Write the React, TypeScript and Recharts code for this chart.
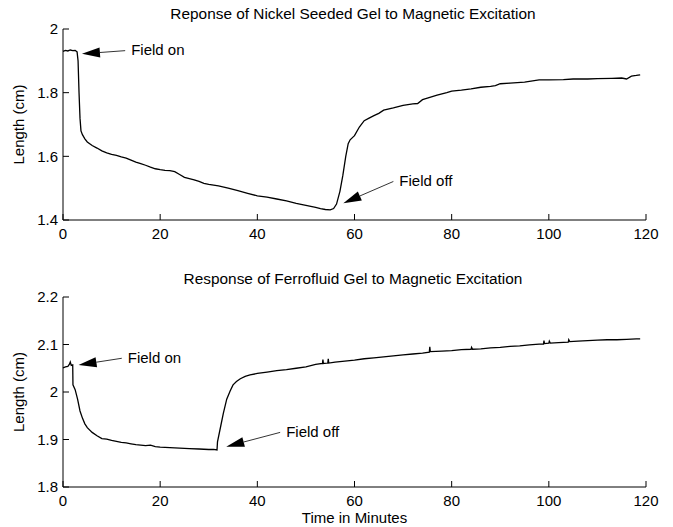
import React from 'react';
import { LineChart, Line, XAxis, YAxis, ReferenceLine } from 'recharts';

// Nickel seeded gel (top panel)
const nickelTime = [
  0, 0.5, 1, 1.5, 2, 2.5, 2.9, 3.1, 3.3, 3.5, 3.7, 4, 4.5, 5, 6, 7, 8, 9, 10, 11, 12, 13, 14, 15, 16,
  17, 18, 19, 20, 21, 22, 23, 24, 25, 26, 27, 28, 29, 30, 32, 34, 36, 38, 40, 42, 44, 46, 48, 50, 52,
  53, 54, 55, 55.7, 56.3, 57, 57.6, 58.2, 58.7, 59.1, 60, 61, 62, 63, 64, 65, 66, 68, 70, 72, 73, 74,
  75, 77, 79, 80, 82, 84, 86, 88, 89, 90, 92, 95, 98, 100, 103, 105, 108, 110, 113, 115, 116, 117,
  118, 118.8,
];
const nickelLength = [
  1.930, 1.933, 1.931, 1.934, 1.932, 1.933, 1.928, 1.9, 1.8, 1.72, 1.68, 1.668, 1.655, 1.645, 1.634,
  1.626, 1.617, 1.611, 1.606, 1.603, 1.598, 1.594, 1.588, 1.582, 1.577, 1.572, 1.566, 1.561, 1.558,
  1.556, 1.555, 1.552, 1.543, 1.534, 1.53, 1.526, 1.521, 1.515, 1.512, 1.507, 1.5, 1.492, 1.484, 1.476,
  1.472, 1.466, 1.46, 1.452, 1.446, 1.44, 1.436, 1.433, 1.432, 1.436, 1.45, 1.49, 1.54, 1.6, 1.64,
  1.652, 1.665, 1.692, 1.712, 1.72, 1.728, 1.735, 1.745, 1.752, 1.76, 1.765, 1.766, 1.778, 1.783,
  1.792, 1.8, 1.805, 1.808, 1.812, 1.817, 1.82, 1.822, 1.828, 1.83, 1.833, 1.84, 1.84, 1.841, 1.843,
  1.843, 1.844, 1.845, 1.846, 1.843, 1.852, 1.854, 1.856,
];

// Ferrofluid gel (bottom panel)
const ferroTime = [
  0, 0.5, 1, 1.3, 1.5, 1.7, 2, 2.05, 2.5, 3, 3.5, 4, 4.5, 5, 6, 7, 8, 9, 10, 11, 12, 13, 14, 15, 16, 17,
  18, 19, 20, 22, 24, 26, 28, 30, 31, 31.7, 31.8, 32.5, 33, 33.7, 34.4, 35, 35.7, 36.5, 37.5, 38.5, 40,
  42, 44, 46, 48, 50, 52, 53.4, 53.5, 53.6, 54.5, 54.6, 54.7, 56, 58, 60, 62, 64, 66, 68, 70, 72, 74,
  75.4, 75.5, 75.6, 78, 80, 82, 84, 84.1, 84.3, 86, 88, 90, 92, 94, 96, 98, 98.9, 99, 99.1, 100, 100.1,
  100.3, 102, 104, 104.1, 104.3, 106, 108, 110, 112, 114, 116, 118, 118.8,
];
const ferroLength = [
  2.051, 2.053, 2.054, 2.058, 2.063, 2.056, 2.057, 2.015, 2.005, 1.985, 1.96, 1.945, 1.933, 1.925,
  1.915, 1.908, 1.902, 1.901, 1.898, 1.896, 1.894, 1.893, 1.891, 1.889, 1.888, 1.887, 1.888, 1.885,
  1.884, 1.883, 1.882, 1.881, 1.88, 1.879, 1.879, 1.878, 1.895, 1.93, 1.955, 1.985, 2.002, 2.015, 2.022,
  2.028, 2.033, 2.036, 2.039, 2.042, 2.045, 2.047, 2.05, 2.053, 2.058, 2.06, 2.068, 2.06, 2.061, 2.07,
  2.061, 2.063, 2.065, 2.067, 2.07, 2.072, 2.074, 2.076, 2.078, 2.08, 2.082, 2.084, 2.095, 2.085,
  2.086, 2.087, 2.089, 2.09, 2.094, 2.09, 2.091, 2.093, 2.094, 2.096, 2.097, 2.099, 2.101, 2.101, 2.108,
  2.102, 2.103, 2.107, 2.103, 2.104, 2.105, 2.11, 2.106, 2.107, 2.108, 2.109, 2.11, 2.11, 2.111, 2.112,
  2.112,
];

const xTicks = [0, 20, 40, 60, 80, 100, 120];
const nickelTicks = [1.4, 1.6, 1.8, 2];
const ferroTicks = [1.8, 1.9, 2, 2.1, 2.2];

// annotation arrows: [tail, tip] in data units
const nickelNotes = [
  { text: 'Field on', tail: { x: 12.8, y: 1.932 }, tip: { x: 3.9, y: 1.922 } },
  { text: 'Field off', tail: { x: 68.0, y: 1.521 }, tip: { x: 57.7, y: 1.453 } },
];
const ferroNotes = [
  { text: 'Field on', tail: { x: 12.1, y: 2.071 }, tip: { x: 3.2, y: 2.057 } },
  { text: 'Field off', tail: { x: 44.7, y: 1.915 }, tip: { x: 33.6, y: 1.885 } },
];

const FONT = '"Liberation Sans", Arial, sans-serif';

const nickelData = nickelTime.map((t, i) => ({ t, v: nickelLength[i] }));
const ferroData = ferroTime.map((t, i) => ({ t, v: ferroLength[i] }));

const arrowShape = (text: string) => (p: any) => {
  const { x1, y1, x2, y2 } = p;
  const ang = Math.atan2(y2 - y1, x2 - x1);
  const L = 18;
  const W = 5;
  const bx = x2 - L * Math.cos(ang);
  const by = y2 - L * Math.sin(ang);
  const nx = -Math.sin(ang) * W;
  const ny = Math.cos(ang) * W;
  return (
    <g>
      <line x1={x1} y1={y1} x2={bx} y2={by} stroke="#000" strokeWidth={0.8} />
      <polygon points={`${x2},${y2} ${bx + nx},${by + ny} ${bx - nx},${by - ny}`} fill="#000" />
      <text x={x1 + 6} y={y1 - 1} dominantBaseline="central" fontSize={15} fill="#000">
        {text}
      </text>
    </g>
  );
};

const yLabel = (props: any) => {
  const vb = props.viewBox;
  const cx = vb.x + 18;
  const cy = vb.y + vb.height / 2;
  return (
    <text x={cx} y={cy} transform={`rotate(-90, ${cx}, ${cy})`} textAnchor="middle" dominantBaseline="central" fontSize={15} fill="#000">
      Length (cm)
    </text>
  );
};

const tickStyle = { fill: '#000', fontSize: 15 };

function Panel({ data, yTicks, notes, top, height, marginTop, xHeight, xLabel }: any) {
  return (
    <div style={{ position: 'absolute', left: 0, top }}>
      <LineChart width={673} height={height} data={data} margin={{ top: marginTop, right: 27, left: 0, bottom: 0 }}>
        <XAxis
          dataKey="t"
          type="number"
          domain={[0, 120]}
          ticks={xTicks}
          interval={0}
          height={xHeight}
          tickSize={-6}
          tickMargin={14}
          tick={tickStyle}
          axisLine={{ stroke: '#000' }}
          tickLine={{ stroke: '#000' }}
          label={xLabel ? { value: xLabel, position: 'insideBottom', offset: 4, fill: '#000', fontSize: 15 } : undefined}
        />
        <YAxis
          type="number"
          domain={[yTicks[0], yTicks[yTicks.length - 1]]}
          ticks={yTicks}
          interval={0}
          width={63}
          tickSize={-6}
          tickMargin={11}
          tick={tickStyle}
          tickFormatter={(v: number) => String(v)}
          axisLine={{ stroke: '#000' }}
          tickLine={{ stroke: '#000' }}
          label={yLabel}
        />
        <Line type="linear" dataKey="v" stroke="#000" strokeWidth={1.3} dot={false} isAnimationActive={false} />
        {notes.map((n: any) => (
          <ReferenceLine key={n.text} segment={[n.tail, n.tip]} shape={arrowShape(n.text)} />
        ))}
      </LineChart>
    </div>
  );
}

export default function App() {
  return (
    <div style={{ position: 'absolute', left: 0, top: 0, width: 673, height: 527, background: '#fff', fontFamily: FONT }}>
      <Panel data={nickelData} yTicks={nickelTicks} notes={nickelNotes} top={0} height={250} marginTop={29} xHeight={30} />
      <Panel data={ferroData} yTicks={ferroTicks} notes={ferroNotes} top={250} height={277} marginTop={47} xHeight={40} xLabel="Time in Minutes" />
      <svg width={673} height={527} style={{ position: 'absolute', left: 0, top: 0, pointerEvents: 'none' }}>
        <text x={353} y={19} textAnchor="middle" fontSize={15.4} fill="#000" fontFamily={FONT}>
          Reponse of Nickel Seeded Gel to Magnetic Excitation
        </text>
        <text x={353} y={284} textAnchor="middle" fontSize={15.4} fill="#000" fontFamily={FONT}>
          Response of Ferrofluid Gel to Magnetic Excitation
        </text>
      </svg>
    </div>
  );
}
